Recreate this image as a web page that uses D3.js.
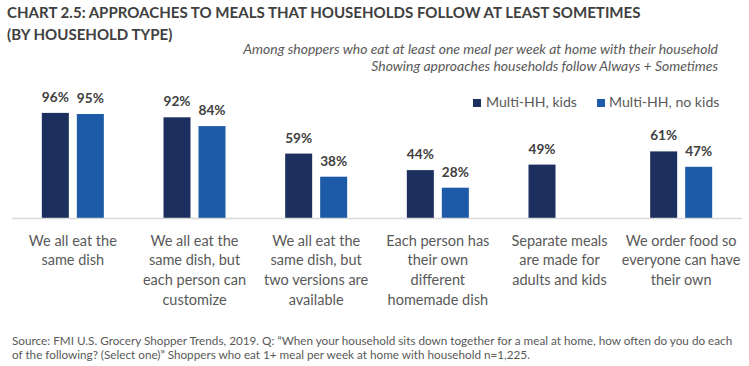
<!DOCTYPE html>
<html>
<head>
<meta charset="utf-8">
<script src="https://cdn.jsdelivr.net/npm/d3@7"></script>
<style>
  html, body { margin: 0; padding: 0; background: #ffffff; }
  svg { display: block; font-family: Lato, "Open Sans", sans-serif; }
</style>
</head>
<body>
<svg id="chart" width="749" height="366"></svg>
<script>
// ---- data ----
const categories = [
  "We all eat the same dish",
  "We all eat the same dish, but each person can customize",
  "We all eat the same dish, but two versions are available",
  "Each person has their own different homemade dish",
  "Separate meals are made for adults and kids",
  "We order food so everyone can have their own"
];
const categoryLines = [
  ["We all eat the", "same dish"],
  ["We all eat the", "same dish, but", "each person can", "customize"],
  ["We all eat the", "same dish, but", "two versions are", "available"],
  ["Each person has", "their own", "different", "homemade dish"],
  ["Separate meals", "are made for", "adults and kids"],
  ["We order food so", "everyone can have", "their own"]
];
const seriesNames = ["Multi-HH, kids", "Multi-HH, no kids"];
const kidsValues = [96, 92, 59, 44, 49, 61];
const noKidsValues = [95, 84, 38, 28, null, 47];
const titleLines = [
  "CHART 2.5: APPROACHES TO MEALS THAT HOUSEHOLDS FOLLOW AT LEAST SOMETIMES",
  "(BY HOUSEHOLD TYPE)"
];
const subtitleLines = [
  "Among shoppers who eat at least one meal per week at home with their household",
  "Showing approaches households follow Always + Sometimes"
];
const sourceLines = [
  "Source: FMI U.S. Grocery Shopper Trends, 2019. Q: \u201cWhen your household sits down together for a meal at home, how often do you do each",
  "of the following? (Select one)\u201d Shoppers who eat 1+ meal per week at home with household n=1,225."
];

// ---- layout ----
const svg = d3.select("#chart");
const colors = ["#1c2f5e", "#1d5aa7"];
const textDark = "#404040";
const textMid = "#595959";

const baseY = 218.5;
const x0 = d3.scaleBand().domain(categories).range([12, 742]).paddingInner(0).paddingOuter(0);
const bw = x0.bandwidth();
const x1 = d3.scaleBand().domain(seriesNames)
  .range([bw / 2 - 31, bw / 2 + 31]).paddingInner(8 / 35).paddingOuter(0);
const y = d3.scaleLinear().domain([0, 100]).range([baseY, baseY - 110]);

// helper: fit a text element's font-size to a target width
function fitWidth(sel, target) {
  const node = sel.node();
  const fs = parseFloat(sel.attr("font-size"));
  const w = node.getComputedTextLength();
  sel.attr("font-size", (fs * target / w).toFixed(2));
  return fs * target / w;
}

// title
const t1 = svg.append("text").attr("x", 7).attr("y", 17.5)
  .attr("font-size", 16).attr("font-weight", 700).attr("fill", textDark)
  .text(titleLines[0]);
const titleFs = fitWidth(t1, 634);
svg.append("text").attr("x", 7).attr("y", 39.5)
  .attr("font-size", titleFs).attr("font-weight", 700).attr("fill", textDark)
  .text(titleLines[1]);

// subtitle
const s1 = svg.append("text").attr("x", 718).attr("y", 53.5)
  .attr("text-anchor", "end").attr("font-size", 13).attr("font-style", "italic")
  .attr("fill", textMid).text(subtitleLines[0]);
const subFs = fitWidth(s1, 475);
svg.append("text").attr("x", 718).attr("y", 70.5)
  .attr("text-anchor", "end").attr("font-size", subFs).attr("font-style", "italic")
  .attr("fill", textMid).text(subtitleLines[1]);

// legend
const leg1 = svg.append("text").attr("x", 486).attr("y", 106.5)
  .attr("font-size", 15).attr("fill", textMid).text(seriesNames[0]);
const legFs = fitWidth(leg1, 91);
const leg2 = svg.append("text").attr("x", 609).attr("y", 106.5)
  .attr("font-size", legFs).attr("fill", textMid).text(seriesNames[1]);
svg.append("rect").attr("x", 473).attr("y", 99).attr("width", 8).attr("height", 8).attr("fill", colors[0]);
svg.append("rect").attr("x", 597).attr("y", 99).attr("width", 8).attr("height", 8).attr("fill", colors[1]);

// bars
const groups = svg.append("g").selectAll("g")
  .data(categories.map((c, i) => ({ cat: c, vals: [kidsValues[i], noKidsValues[i]] })))
  .join("g")
  .attr("transform", d => `translate(${x0(d.cat)},0)`);

const barData = d => d.vals.map((v, j) => ({ key: seriesNames[j], v, j })).filter(e => e.v != null);

groups.selectAll("rect").data(barData).join("rect")
  .attr("x", e => x1(e.key))
  .attr("width", x1.bandwidth())
  .attr("y", e => y(e.v))
  .attr("height", e => baseY - y(e.v))
  .attr("fill", e => colors[e.j]);

// value labels
const probe = svg.append("text").attr("font-size", 14).attr("font-weight", 700).text("96%");
const valFs = 14 * 27 / probe.node().getComputedTextLength();
probe.remove();
groups.selectAll("text.val").data(barData).join("text")
  .attr("class", "val")
  .attr("x", e => x1(e.key) + x1.bandwidth() / 2)
  .attr("y", e => y(e.v) - 11)
  .attr("text-anchor", "middle")
  .attr("font-size", valFs.toFixed(2))
  .attr("font-weight", 700)
  .attr("fill", textDark)
  .text(e => e.v + "%");

// axis baseline
svg.append("line").attr("x1", 12).attr("x2", 742).attr("y1", baseY).attr("y2", baseY)
  .attr("stroke", "#d9d9d9").attr("stroke-width", 1.5);

// category labels
const probe2 = svg.append("text").attr("font-size", 15).text("We all eat the");
const catFs = 15 * 88 / probe2.node().getComputedTextLength();
probe2.remove();
categories.forEach((c, i) => {
  const t = svg.append("text")
    .attr("x", x0(c) + bw / 2)
    .attr("y", 245.5)
    .attr("text-anchor", "middle")
    .attr("font-size", catFs.toFixed(2))
    .attr("fill", textMid);
  categoryLines[i].forEach((ln, k) => {
    t.append("tspan").attr("x", x0(c) + bw / 2).attr("y", 245.5 + k * 19.7).text(ln);
  });
});

// source
const src1 = svg.append("text").attr("x", 12).attr("y", 344.5)
  .attr("font-size", 12).attr("fill", textMid).text(sourceLines[0]);
const srcFs = fitWidth(src1, 721);
svg.append("text").attr("x", 12).attr("y", 358.5)
  .attr("font-size", srcFs).attr("fill", textMid).text(sourceLines[1]);
</script>
</body>
</html>
